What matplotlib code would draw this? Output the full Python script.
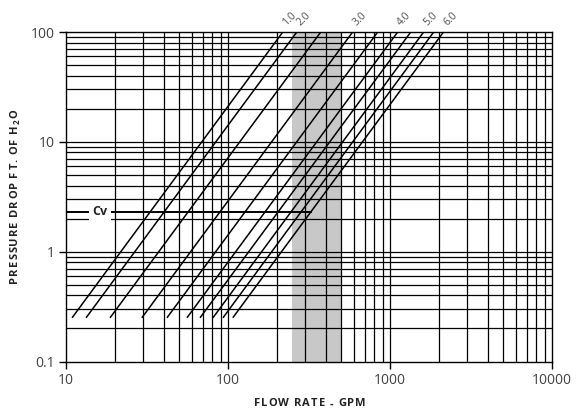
import matplotlib
matplotlib.use("Agg")
import matplotlib.pyplot as plt
from matplotlib.ticker import FixedLocator, NullLocator
from matplotlib.font_manager import FontProperties

# ---- data ----
start_flow = [10.9, 13.3, 18.7, 29.4, 42.0, 55.8, 67.2, 80.7, 93.1, 107.0]   # GPM at P = 0.25
end_flow = [218, 266, 374, 588, 840, 1116, 1344, 1614, 1862, 2140]           # GPM at P = 100
start_p = 0.25
end_p = 100.0
label_idx = [0, 1, 3, 5, 7, 9]
label_text = ["1.0", "2.0", "3.0", "4.0", "5.0", "6.0"]
band = [250, 500]
cv_p = 2.31
cv_end_flow = 325
cv_text_flow = 16.2
x_ticks = [10, 100, 1000, 10000]
x_ticklabels = ["10", "100", "1000", "10000"]
y_ticks = [0.1, 1, 10, 100]
y_ticklabels = ["0.1", "1", "10", "100"]
x_title = "FLOW RATE - GPM"
y_title_parts = [("PRESSURE DROP FT. OF H", False), ("2", True), ("O", False)]

plt.rcParams['font.family'] = ['Open Sans', 'DejaVu Sans']

W, H = 579, 412
fig = plt.figure(figsize=(W / 100, H / 100), dpi=100)
ax = fig.add_axes([66/W, 1-361.5/H, (552-66)/W, (361.5-32)/H])
ax.set_xscale('log')
ax.set_yscale('log')
ax.set_xlim(10, 10000)
ax.set_ylim(0.1, 100)

# shaded band
ax.axvspan(band[0], band[1], color='#c8c8c8', lw=0, zorder=0)

# grid
vgrid = [m * 10**e for e in range(1, 4) for m in range(2, 10)]
hgrid = [m * 10**e for e in range(-1, 2) for m in range(2, 10)]
for v in vgrid + [100, 1000]:
    ax.axvline(v, color='black', lw=0.9, zorder=1)
for h in hgrid + [1, 10]:
    ax.axhline(h, color='black', lw=0.9, zorder=1)

# diagonal Cv lines
for q0, q1 in zip(start_flow, end_flow):
    ax.plot([q0, q1], [start_p, end_p], color='black', lw=1.1, zorder=3,
            solid_capstyle='butt')

# labels above top
for i, t in zip(label_idx, label_text):
    ax.annotate(t, xy=(end_flow[i], end_p), xytext=(5, 9), textcoords='offset points',
                rotation=45, ha='center', va='center', fontsize=7.5, color='#505050',
                annotation_clip=False)

# Cv line
ax.plot([10, cv_end_flow], [cv_p, cv_p], color='black', lw=1.4, zorder=4)
ax.text(cv_text_flow, cv_p, "Cv", ha='center', va='center', fontsize=9, fontweight='bold',
        color='#222222', zorder=5,
        bbox=dict(facecolor='white', edgecolor='none', pad=2.2))

ax.xaxis.set_major_locator(FixedLocator(x_ticks))
ax.set_xticklabels(x_ticklabels)
ax.yaxis.set_major_locator(FixedLocator(y_ticks))
ax.set_yticklabels(y_ticklabels)
ax.xaxis.set_minor_locator(NullLocator())
ax.yaxis.set_minor_locator(NullLocator())
ax.tick_params(axis='both', which='major', length=5, width=1, color='black',
               labelsize=10, labelcolor='#404040', pad=3)

for s in ax.spines.values():
    s.set_color('black')
    s.set_linewidth(1.0)

# letter-spaced titles drawn char by char
fig.canvas.draw()
renderer = fig.canvas.get_renderer()
fp = FontProperties(family=['Open Sans', 'DejaVu Sans'], weight='bold', size=8)
fp_sub = FontProperties(family=['Open Sans', 'DejaVu Sans'], weight='bold', size=5.8)
track = 1.0  # px extra between letters


def char_w(c, prop):
    if c == ' ':
        w, _, _ = renderer.get_text_width_height_descent('a a', prop, ismath=False)
        w2, _, _ = renderer.get_text_width_height_descent('aa', prop, ismath=False)
        return w - w2
    w, _, _ = renderer.get_text_width_height_descent(c, prop, ismath=False)
    return w


def collect(parts):
    items = []
    for txt, sub in parts:
        prop = fp_sub if sub else fp
        for c in txt:
            items.append((c, prop, sub, char_w(c, prop)))
    total = sum(it[3] for it in items) + track * (len(items) - 1)
    return items, total


def spaced_x(parts, cx, cy_top):
    items, total = collect(parts)
    pos = cx - total / 2
    for c, prop, sub, w in items:
        fig.text((pos + w / 2) / W, 1 - cy_top / H, c, fontproperties=prop,
                 ha='center', va='center', color='#222222')
        pos += w + track


def spaced_y(parts, cx, cy_top):
    items, total = collect(parts)
    pos = cy_top + total / 2   # bottom of text (top-down coords), text reads upward
    for c, prop, sub, w in items:
        off = 2.5 if sub else 0.0
        fig.text((cx + off) / W, 1 - (pos - w / 2) / H, c, fontproperties=prop,
                 rotation=90, ha='center', va='center', color='#222222')
        pos -= w + track


spaced_x([(x_title, False)], 310, 404)
spaced_y(y_title_parts, 15, 196)

fig.savefig("out.png", dpi=100)
